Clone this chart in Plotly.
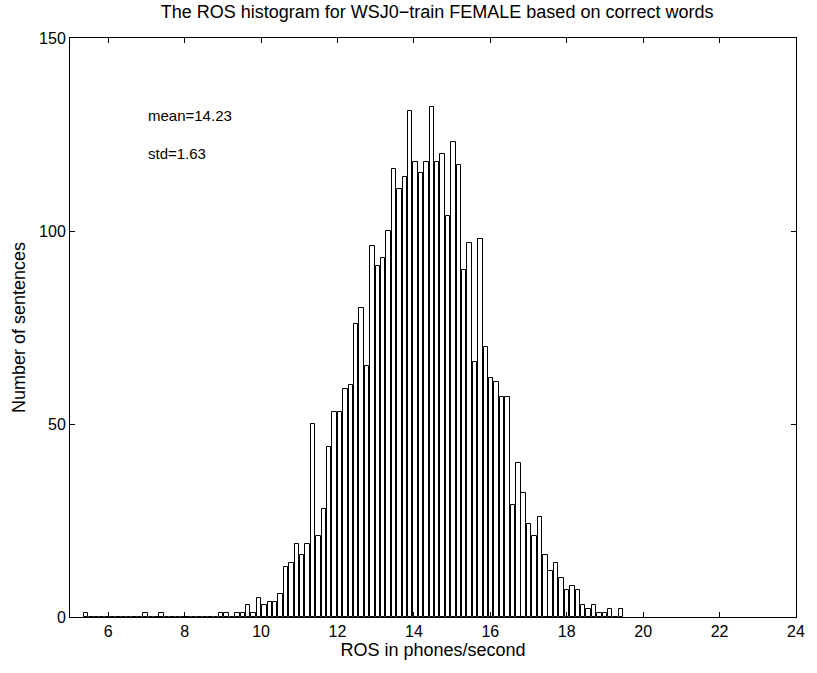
import plotly.graph_objects as go

# Histogram: 100 bins between min and max ROS
bin_start = 5.42
bin_width = 0.1414
counts = [
    1, 0, 0, 0, 0, 0, 0, 0, 0, 0,
    0, 1, 0, 0, 1, 0, 0, 0, 0, 0,
    0, 0, 0, 0, 0, 1, 1, 0, 1, 1,
    3, 1, 5, 3, 4, 4, 6, 13, 14, 19,
    16, 19, 50, 21, 28, 44, 53, 53, 59, 60,
    76, 80, 65, 96, 91, 93, 100, 116, 111, 114,
    131, 118, 115, 118, 132, 118, 120, 104, 123, 117,
    90, 97, 66, 98, 70, 62, 61, 57, 57, 29,
    40, 32, 24, 21, 26, 16, 12, 14, 10, 7,
    8, 7, 3, 2, 3, 1, 1, 2, 0, 2,
]
centers = [bin_start + i * bin_width for i in range(len(counts))]

x_ticks = [6, 8, 10, 12, 14, 16, 18, 20, 22, 24]
y_ticks = [0, 50, 100, 150]

title_text = "The ROS histogram for WSJ0\u2212train FEMALE based on correct words"
x_label = "ROS in phones/second"
y_label = "Number of sentences"
notes = ["mean=14.23", "std=1.63"]
note_y = [130, 120]

FONT = "Liberation Sans, Arial, Helvetica, sans-serif"

fig = go.Figure()
fig.add_trace(go.Bar(
    x=centers, y=counts, width=bin_width * 0.82,
    marker=dict(color="white", line=dict(color="black", width=1)),
    showlegend=False,
))

for t, yy in zip(notes, note_y):
    fig.add_annotation(x=7, y=yy, text=t, showarrow=False, xanchor="left",
                       yanchor="middle", font=dict(family=FONT, size=15, color="black"))

axis_common = dict(
    showline=True, linecolor="black", linewidth=1, mirror="ticks",
    ticks="inside", ticklen=5, tickcolor="black", showgrid=False, zeroline=False,
    tickfont=dict(family=FONT, size=16, color="black"),
)

fig.update_layout(
    width=817, height=673,
    margin=dict(l=70, r=13, t=38, b=56),
    paper_bgcolor="white", plot_bgcolor="white",
    bargap=0,
    title=dict(text=title_text, x=0.535, xanchor="center", y=0.982, yanchor="middle",
               font=dict(family=FONT, size=18, color="black")),
    xaxis=dict(range=[5, 24], tickvals=x_ticks,
               title=dict(text=x_label, font=dict(family=FONT, size=18, color="black"), standoff=0),
               **axis_common),
    yaxis=dict(range=[0, 150], tickvals=y_ticks,
               title=dict(text=y_label, font=dict(family=FONT, size=18, color="black"), standoff=8),
               **axis_common),
)

fig.write_html("out.html")
